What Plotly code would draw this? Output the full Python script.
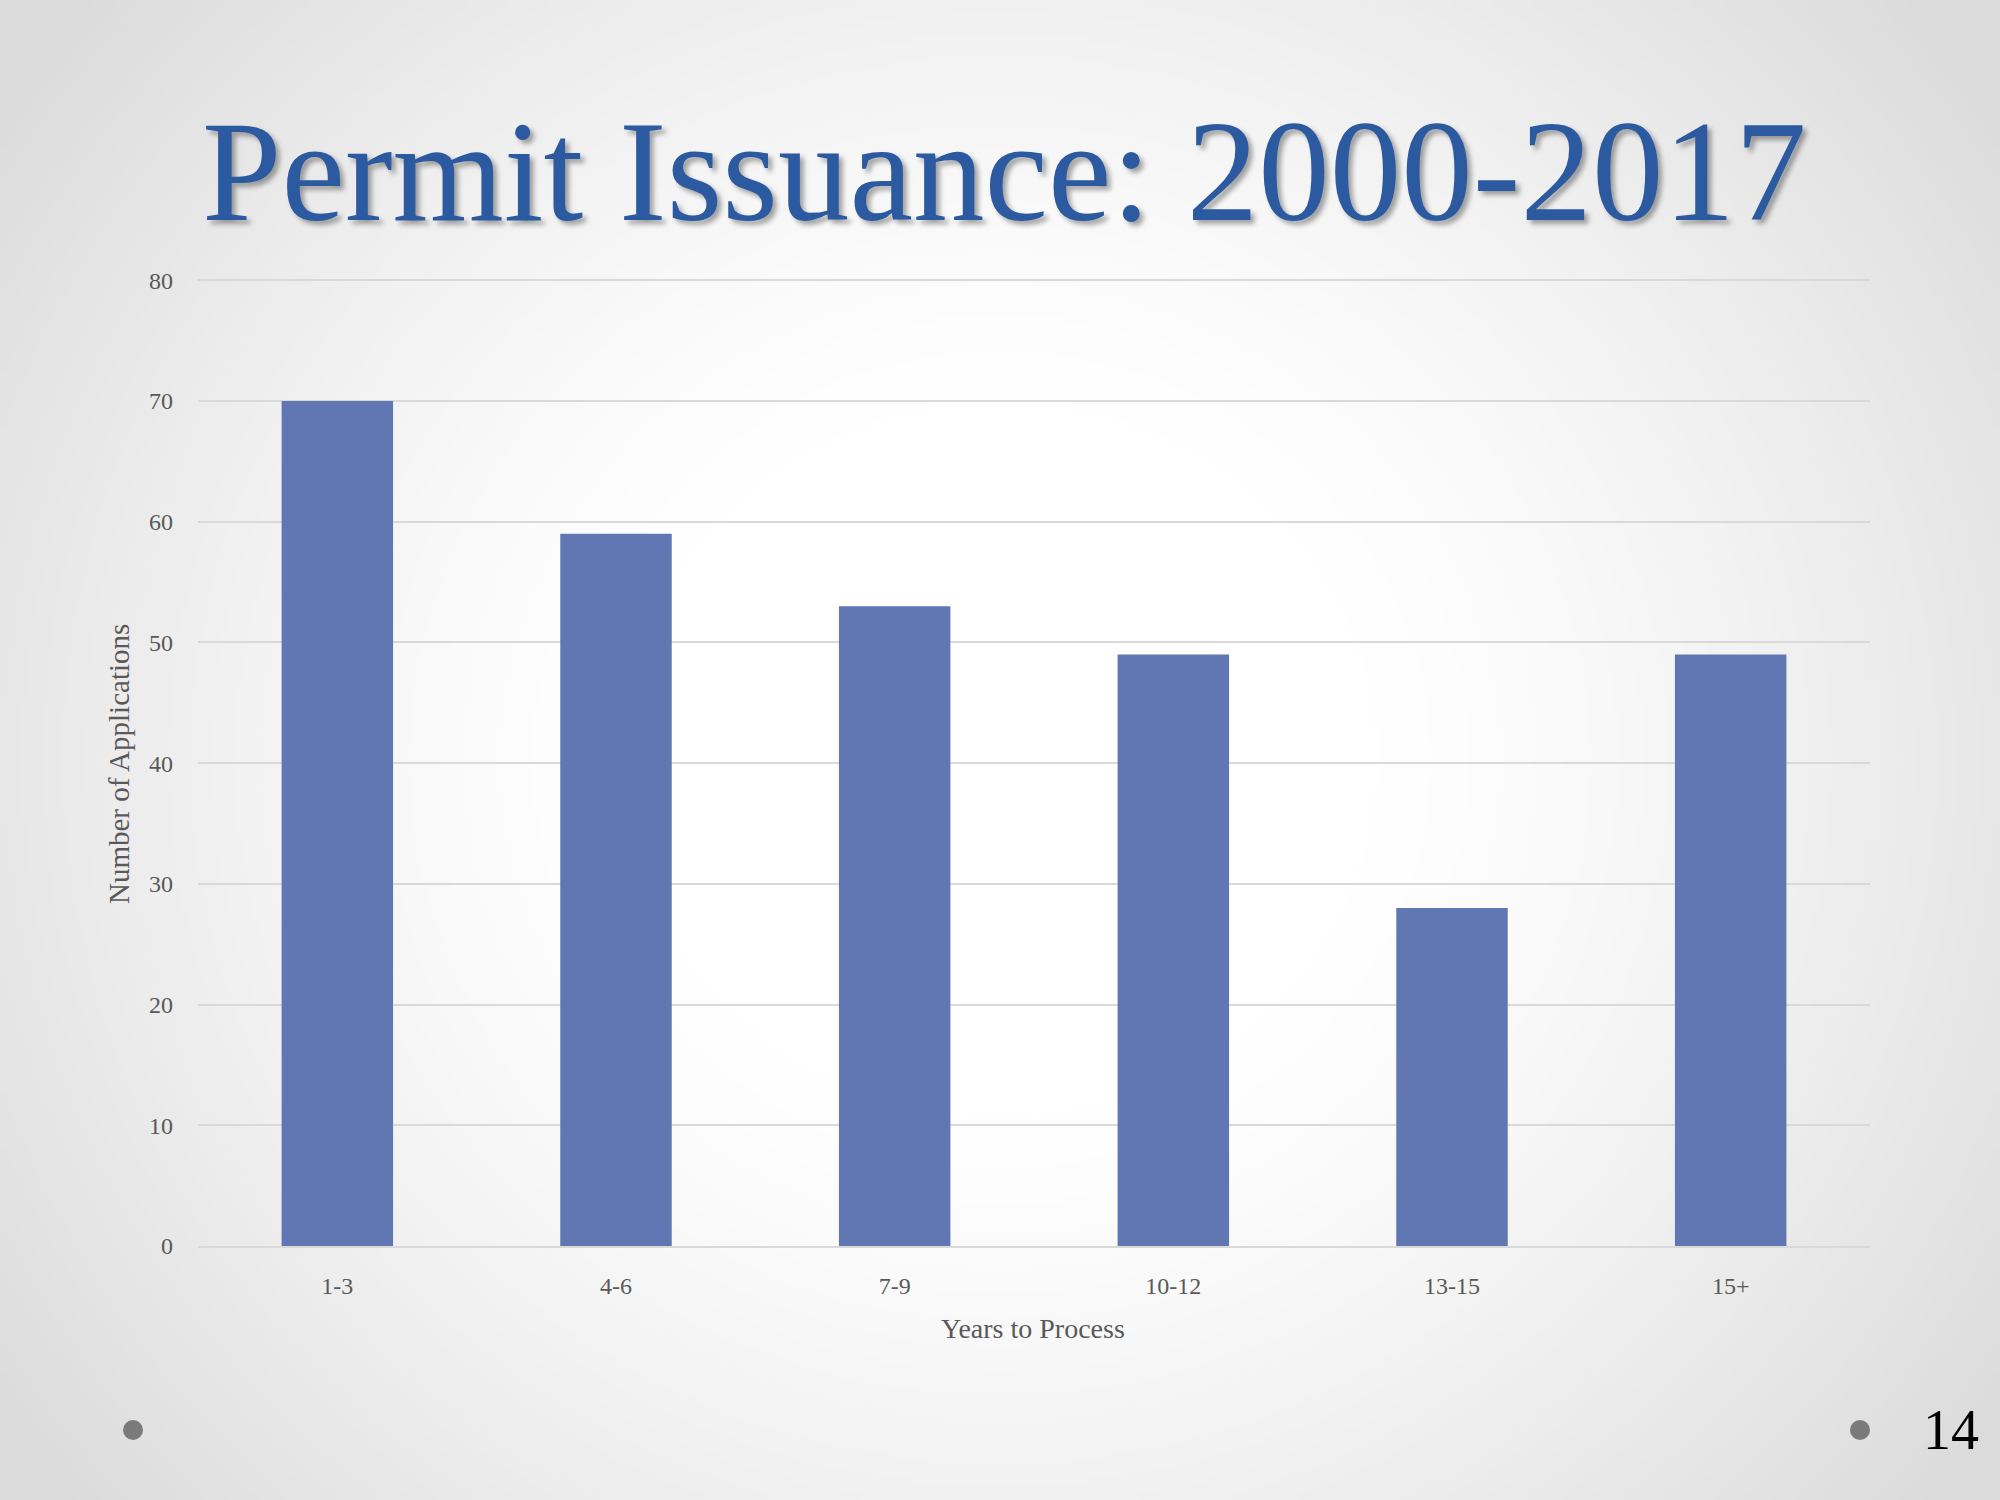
import base64, struct, zlib
import numpy as np
import plotly.graph_objects as go

categories = ["1-3", "4-6", "7-9", "10-12", "13-15", "15+"]
applications = [70, 59, 53, 49, 28, 49]
y_ticks = [0, 10, 20, 30, 40, 50, 60, 70, 80]
title_text = "Permit Issuance: 2000-2017"
x_title = "Years to Process"
y_title = "Number of Applications"
page_number = "14"

W, H = 2000, 1500
L, R, T, B = 198, 130, 279, 254
PW, PH = W - L - R, H - T - B

def px(X):
    return (X - L) / PW

def py(Y):
    return ((H - Y) - B) / PH

# radial gradient background image (grey edges, white centre)
gw, gh = 400, 300
xx, yy = np.meshgrid(np.linspace(0, W, gw), np.linspace(0, H, gh))
d = np.sqrt(((xx - 1000) / 1000) ** 2 + ((yy - 760) / 950) ** 2)
val = 255 - 36 * np.clip((d - 0.38) / 0.85, 0, 1) ** 1.3
img = val.astype(np.uint8)

def make_png(a):
    h, w = a.shape
    raw = b"".join(b"\x00" + a[i].tobytes() for i in range(h))
    def chunk(t, data):
        c = struct.pack(">I", len(data)) + t + data
        return c + struct.pack(">I", zlib.crc32(t + data) & 0xFFFFFFFF)
    return (b"\x89PNG\r\n\x1a\n" + chunk(b"IHDR", struct.pack(">IIBBBBB", w, h, 8, 0, 0, 0, 0))
            + chunk(b"IDAT", zlib.compress(raw, 9)) + chunk(b"IEND", b""))

bg_uri = "data:image/png;base64," + base64.b64encode(make_png(img)).decode()

serif = "Liberation Serif"
label_col = "#595959"

fig = go.Figure(go.Bar(
    x=categories, y=applications, marker=dict(color="#6177B3", line=dict(width=0)),
))

fig.update_layout(
    width=W, height=H, autosize=False,
    margin=dict(l=L, r=R, t=T, b=B, pad=0),
    paper_bgcolor="#ffffff", plot_bgcolor="rgba(0,0,0,0)",
    bargap=0.6, showlegend=False,
    font=dict(family=serif, color=label_col, size=24),
    images=[dict(source=bg_uri, xref="paper", yref="paper", x=px(0), y=py(0),
                 sizex=W / PW, sizey=H / PH, sizing="stretch", layer="below",
                 xanchor="left", yanchor="top")],
)
fig.update_xaxes(type="category", showgrid=False, ticks="", showline=True, linecolor="#D9D9D9",
                 linewidth=2, tickfont=dict(family=serif, size=24, color=label_col),
                 ticklabelstandoff=17, zeroline=False)
fig.update_yaxes(range=[0, 80.1], tickvals=y_ticks, showgrid=True, gridcolor="#D9D9D9", gridwidth=2,
                 zeroline=False, ticks="", showline=False,
                 tickfont=dict(family=serif, size=24, color=label_col), ticklabelstandoff=24)

annotations = [
    dict(text=title_text, x=px(1004), y=py(172), xanchor="center", yanchor="middle",
         font=dict(family=serif, size=143, color="#2C5AA0",
                   shadow="4px 4px 5px rgba(0,0,0,0.35)")),
    dict(text=x_title, x=px(1033), y=py(1328), xanchor="center", yanchor="middle",
         font=dict(family=serif, size=28, color=label_col)),
    dict(text=y_title, x=px(119), y=py(764), xanchor="center", yanchor="middle", textangle=-90,
         font=dict(family=serif, size=29, color=label_col)),
    dict(text=page_number, x=px(1951), y=py(1430), xanchor="center", yanchor="middle",
         font=dict(family=serif, size=56, color="#000000")),
]
for a in annotations:
    a.update(xref="paper", yref="paper", showarrow=False)
fig.update_layout(annotations=annotations)

for cx in (133, 1860):
    fig.add_shape(type="circle", xref="paper", yref="paper",
                  x0=px(cx - 10), x1=px(cx + 10), y0=py(1430 + 10), y1=py(1430 - 10),
                  fillcolor="#7A7A7A", line=dict(width=0))

fig.write_html("out.html", config={"displayModeBar": False},
               post_script="document.body.style.margin='0';")
